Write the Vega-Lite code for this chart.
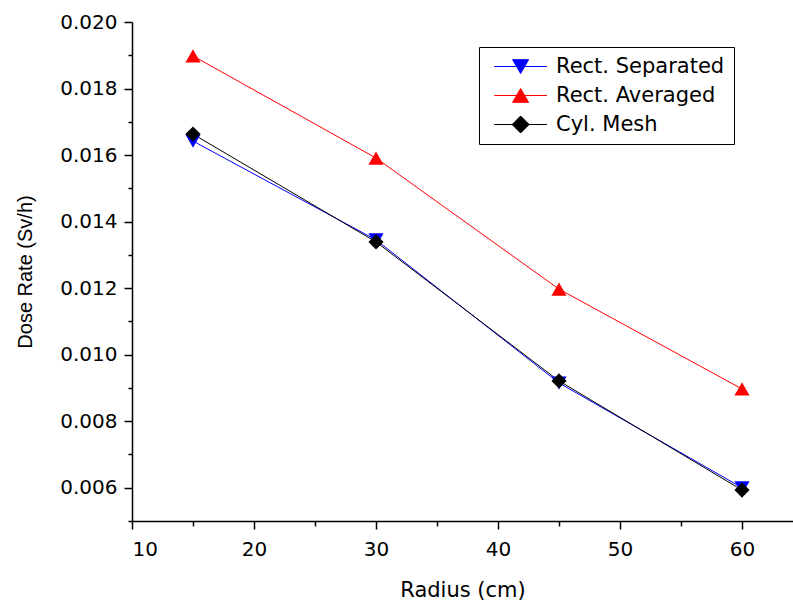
{
  "$schema": "https://vega.github.io/schema/vega-lite/v6.json",
  "autosize": {"type": "none"},
  "padding": {"left": 132, "top": 22, "right": 0, "bottom": 81},
  "width": 661,
  "height": 499,
  "background": "white",
  "data": {
    "values": [
      {"series": "Rect. Separated", "radius": 15, "dose": 0.01642},
      {"series": "Rect. Separated", "radius": 30, "dose": 0.01345},
      {"series": "Rect. Separated", "radius": 45, "dose": 0.00915},
      {"series": "Rect. Separated", "radius": 60, "dose": 0.00600},
      {"series": "Rect. Averaged", "radius": 15, "dose": 0.01898},
      {"series": "Rect. Averaged", "radius": 30, "dose": 0.01591},
      {"series": "Rect. Averaged", "radius": 45, "dose": 0.01197},
      {"series": "Rect. Averaged", "radius": 60, "dose": 0.00897},
      {"series": "Cyl. Mesh", "radius": 15, "dose": 0.01663},
      {"series": "Cyl. Mesh", "radius": 30, "dose": 0.01339},
      {"series": "Cyl. Mesh", "radius": 45, "dose": 0.00921},
      {"series": "Cyl. Mesh", "radius": 60, "dose": 0.00593}
    ]
  },
  "encoding": {
    "x": {
      "field": "radius", "type": "quantitative",
      "scale": {"domain": [10, 64.18], "nice": false, "zero": false},
      "axis": {
        "title": "Radius (cm)",
        "values": [10, 15, 20, 25, 30, 35, 40, 45, 50, 55, 60],
        "labelExpr": "datum.value % 10 === 0 ? format(datum.value, 'd') : ''",
        "tickSize": {"condition": {"test": "datum.value % 10 === 0", "value": 8}, "value": 5},
        "labelPadding": 10,
        "titleFontSize": 21,
        "titleFont": "DejaVu Sans",
        "titlePadding": 20
      }
    },
    "y": {
      "field": "dose", "type": "quantitative",
      "scale": {"domain": [0.005, 0.020], "nice": false, "zero": false},
      "axis": {
        "title": "Dose Rate (Sv/h)",
        "values": [0.005, 0.006, 0.007, 0.008, 0.009, 0.010, 0.011, 0.012, 0.013, 0.014, 0.015, 0.016, 0.017, 0.018, 0.019, 0.020],
        "labelExpr": "round(datum.value * 1000) % 2 === 0 ? format(datum.value, '.3f') : ''",
        "tickSize": {"condition": {"test": "round(datum.value * 1000) % 2 === 0", "value": 8}, "value": 4},
        "labelPadding": 7,
        "titleFont": "Liberation Sans",
        "titleFontSize": 20,
        "titlePadding": 24
      }
    },
    "color": {
      "field": "series", "type": "nominal",
      "scale": {"domain": ["Rect. Separated", "Rect. Averaged", "Cyl. Mesh"], "range": ["#0000ff", "#ff0000", "#000000"]},
      "legend": {
        "title": null,
        "orient": "none",
        "legendX": 347,
        "legendY": 25,
        "strokeColor": "black",
        "fillColor": "white",
        "padding": 9,
        "rowPadding": 7,
        "symbolSize": 289,
        "labelOffset": 47,
        "labelFont": "DejaVu Sans",
        "labelFontSize": 21,
        "labelColor": "black",
        "labelLimit": 300,
        "encode": {
          "symbols": {
            "update": {
              "shape": {"signal": "datum.value === 'Rect. Separated' ? 'M-0.5,0H5.7M1.66,-0.8H3.54L2.6,0.82Z' : datum.value === 'Rect. Averaged' ? 'M-0.5,0H5.7M1.66,0.8H3.54L2.6,-0.82Z' : 'M-0.5,0H5.7M1.6,0L2.6,-1L3.6,0L2.6,1Z'"},
              "stroke": {"signal": "datum.value === 'Rect. Separated' ? '#0000ff' : datum.value === 'Rect. Averaged' ? '#ff0000' : '#000000'"},
              "fill": {"signal": "datum.value === 'Rect. Separated' ? '#0000ff' : datum.value === 'Rect. Averaged' ? '#ff0000' : '#000000'"},
              "strokeWidth": {"value": 1},
              "opacity": {"value": 1}
            }
          }
        }
      }
    }
  },
  "layer": [
    {
      "mark": {"type": "line", "strokeWidth": 1}
    },
    {
      "mark": {"type": "point", "filled": true, "opacity": 1, "size": 230},
      "encoding": {
        "shape": {
          "condition": [
            {"test": "datum.series === 'Rect. Separated'", "value": "triangle-down"},
            {"test": "datum.series === 'Rect. Averaged'", "value": "triangle-up"}
          ],
          "value": "diamond"
        }
      }
    }
  ],
  "config": {
    "view": {"stroke": null},
    "axis": {
      "grid": false,
      "domainColor": "black",
      "domainWidth": 1.5,
      "tickColor": "black",
      "tickWidth": 1.5,
      "labelFont": "DejaVu Sans",
      "labelFontSize": 20,
      "labelColor": "black",
      "titleColor": "black",
      "titleFontWeight": "normal"
    }
  }
}
